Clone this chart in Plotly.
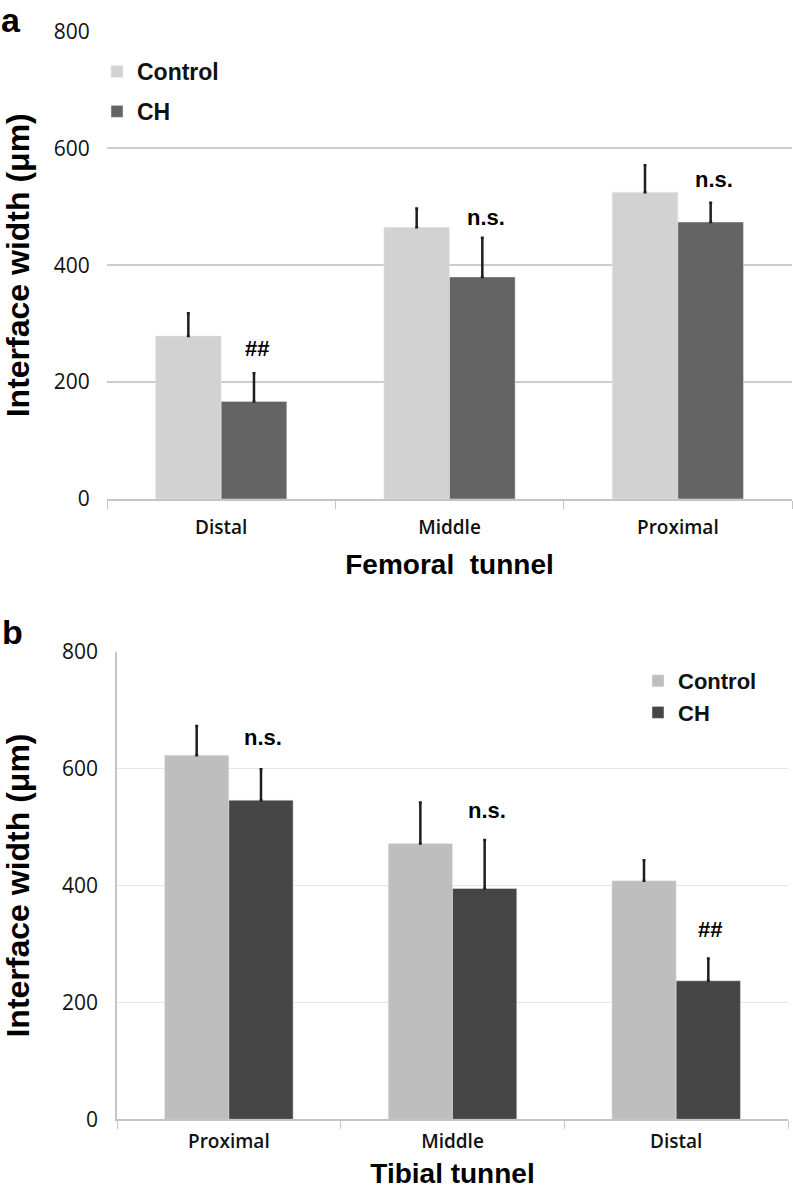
import plotly.graph_objects as go

# ---- data ----
fem_categories = ["Distal", "Middle", "Proximal"]
fem_control = [279, 465, 525]
fem_control_err = [39, 32, 46]
fem_ch = [167, 380, 474]
fem_ch_err = [48, 67, 33]
fem_marks = ["##", "n.s.", "n.s."]
fem_mark_y = [258, 481, 546]

tib_categories = ["Proximal", "Middle", "Distal"]
tib_control = [623, 472, 408]
tib_control_err = [50, 70, 35]
tib_ch = [546, 395, 237]
tib_ch_err = [53, 83, 38]
tib_marks = ["n.s.", "n.s.", "##"]
tib_mark_y = [654, 529, 324]

y_ticks = [0, 200, 400, 600, 800]

W, H = 793, 1189
def px(x):
    return x / W
def py(y):
    return 1 - y / H

fig = go.Figure()

err_style = dict(type="data", symmetric=False, color="#1e1e1e", thickness=2.5, width=1.5)

fig.add_trace(go.Bar(x=fem_categories, y=fem_control, name="Control",
                     marker=dict(color="#d2d2d2"), xaxis="x", yaxis="y",
                     error_y=dict(array=fem_control_err, arrayminus=[0]*3, **err_style),
                     legend="legend", legendgroup="a1"))
fig.add_trace(go.Bar(x=fem_categories, y=fem_ch, name="CH",
                     marker=dict(color="#646464"), xaxis="x", yaxis="y",
                     error_y=dict(array=fem_ch_err, arrayminus=[0]*3, **err_style),
                     legend="legend", legendgroup="a2"))
fig.add_trace(go.Bar(x=tib_categories, y=tib_control, name="Control",
                     marker=dict(color="#bebebe"), xaxis="x2", yaxis="y2",
                     error_y=dict(array=tib_control_err, arrayminus=[0]*3, **err_style),
                     legend="legend2", legendgroup="b1"))
fig.add_trace(go.Bar(x=tib_categories, y=tib_ch, name="CH",
                     marker=dict(color="#464646"), xaxis="x2", yaxis="y2",
                     error_y=dict(array=tib_ch_err, arrayminus=[0]*3, **err_style),
                     legend="legend2", legendgroup="b2"))

tick_font = dict(family="Open Sans", size=21, color="#111")
cat_font = dict(family="Open Sans", size=19, color="#111", weight=600)
ytitle_font = dict(family="Liberation Sans, Arial", size=32, color="#000", weight="bold")
xtitle_font = dict(family="Liberation Sans, Arial", size=28, color="#000", weight="bold")

fig.update_layout(
    width=W, height=H,
    margin=dict(l=0, r=0, t=0, b=0, autoexpand=False),
    paper_bgcolor="white", plot_bgcolor="white",
    barmode="group", bargap=0.425, bargroupgap=0,
    xaxis=dict(domain=[px(107), px(792)], anchor="y", type="category", automargin=False,
               showgrid=False, showline=True, linecolor="#c4c4c4", linewidth=1.5,
               ticks="outside", tickson="boundaries", ticklen=8, tickcolor="#c4c4c4",
               ticklabelstandoff=10, tickfont=cat_font,
               title=dict(text="Femoral\u00a0\u00a0tunnel", font=xtitle_font, standoff=16)),
    yaxis=dict(domain=[py(499), py(31.5)], anchor="x", range=[0, 800], automargin=False,
               tickvals=y_ticks, showgrid=True, gridcolor="#cccccc", gridwidth=1.5,
               showline=False, zeroline=False, ticks="outside", ticklen=12, tickcolor="rgba(0,0,0,0)",
               tickfont=tick_font,
               title=dict(text="Interface width (μm)", font=ytitle_font, standoff=15)),
    xaxis2=dict(domain=[px(117), px(788)], anchor="y2", type="category", automargin=False,
                showgrid=False, showline=True, linecolor="#c4c4c4", linewidth=1.5,
                ticks="outside", tickson="boundaries", ticklen=8, tickcolor="#c4c4c4",
                ticklabelstandoff=4, tickfont=cat_font,
                title=dict(text="Tibial tunnel", font=xtitle_font, standoff=24)),
    yaxis2=dict(domain=[py(1119.3), py(651.7)], anchor="x2", range=[0, 800], automargin=False,
                tickvals=y_ticks, showgrid=True, gridcolor="#e4e4e4", gridwidth=1.2,
                showline=True, linecolor="#c4c4c4", linewidth=1.5, zeroline=False,
                ticks="outside", ticklen=13, tickcolor="rgba(0,0,0,0)",
                tickfont=tick_font,
                title=dict(text="Interface width (μm)", font=ytitle_font, standoff=27)),
    legend=dict(x=px(97), y=py(50), xanchor="left", yanchor="top",
                font=dict(family="Liberation Sans, Arial", size=23, color="#111", weight="bold"),
                bgcolor="rgba(0,0,0,0)", tracegroupgap=7, itemclick=False),
    legend2=dict(x=px(638), y=py(660), xanchor="left", yanchor="top",
                 font=dict(family="Liberation Sans, Arial", size=22, color="#111", weight="bold"),
                 bgcolor="rgba(0,0,0,0)", tracegroupgap=0, itemclick=False),
    showlegend=True,
)

mark_font = dict(family="Liberation Sans, Arial", size=22, color="#000", weight="bold")
annotations = []
for cat, txt, yv in zip(fem_categories, fem_marks, fem_mark_y):
    annotations.append(dict(x=cat, y=yv, xref="x", yref="y", text=txt, showarrow=False,
                            xshift=36, font=mark_font, yanchor="middle"))
for cat, txt, yv in zip(tib_categories, tib_marks, tib_mark_y):
    annotations.append(dict(x=cat, y=yv, xref="x2", yref="y2", text=txt, showarrow=False,
                            xshift=34, font=mark_font, yanchor="middle"))
panel_font = dict(family="Liberation Sans, Arial", size=34, color="#000", weight="bold")
annotations.append(dict(x=0, y=1, xref="paper", yref="paper", text="a", showarrow=False,
                        xanchor="left", yanchor="top", font=panel_font, borderpad=0))
annotations.append(dict(x=0, y=py(632), xref="paper", yref="paper", text="b", showarrow=False,
                        xanchor="left", yanchor="middle", font=panel_font))
fig.update_layout(annotations=annotations)

fig.write_html("out.html", config={"displayModeBar": False},
               post_script="document.body.style.margin='0';document.body.style.overflow='hidden';")
